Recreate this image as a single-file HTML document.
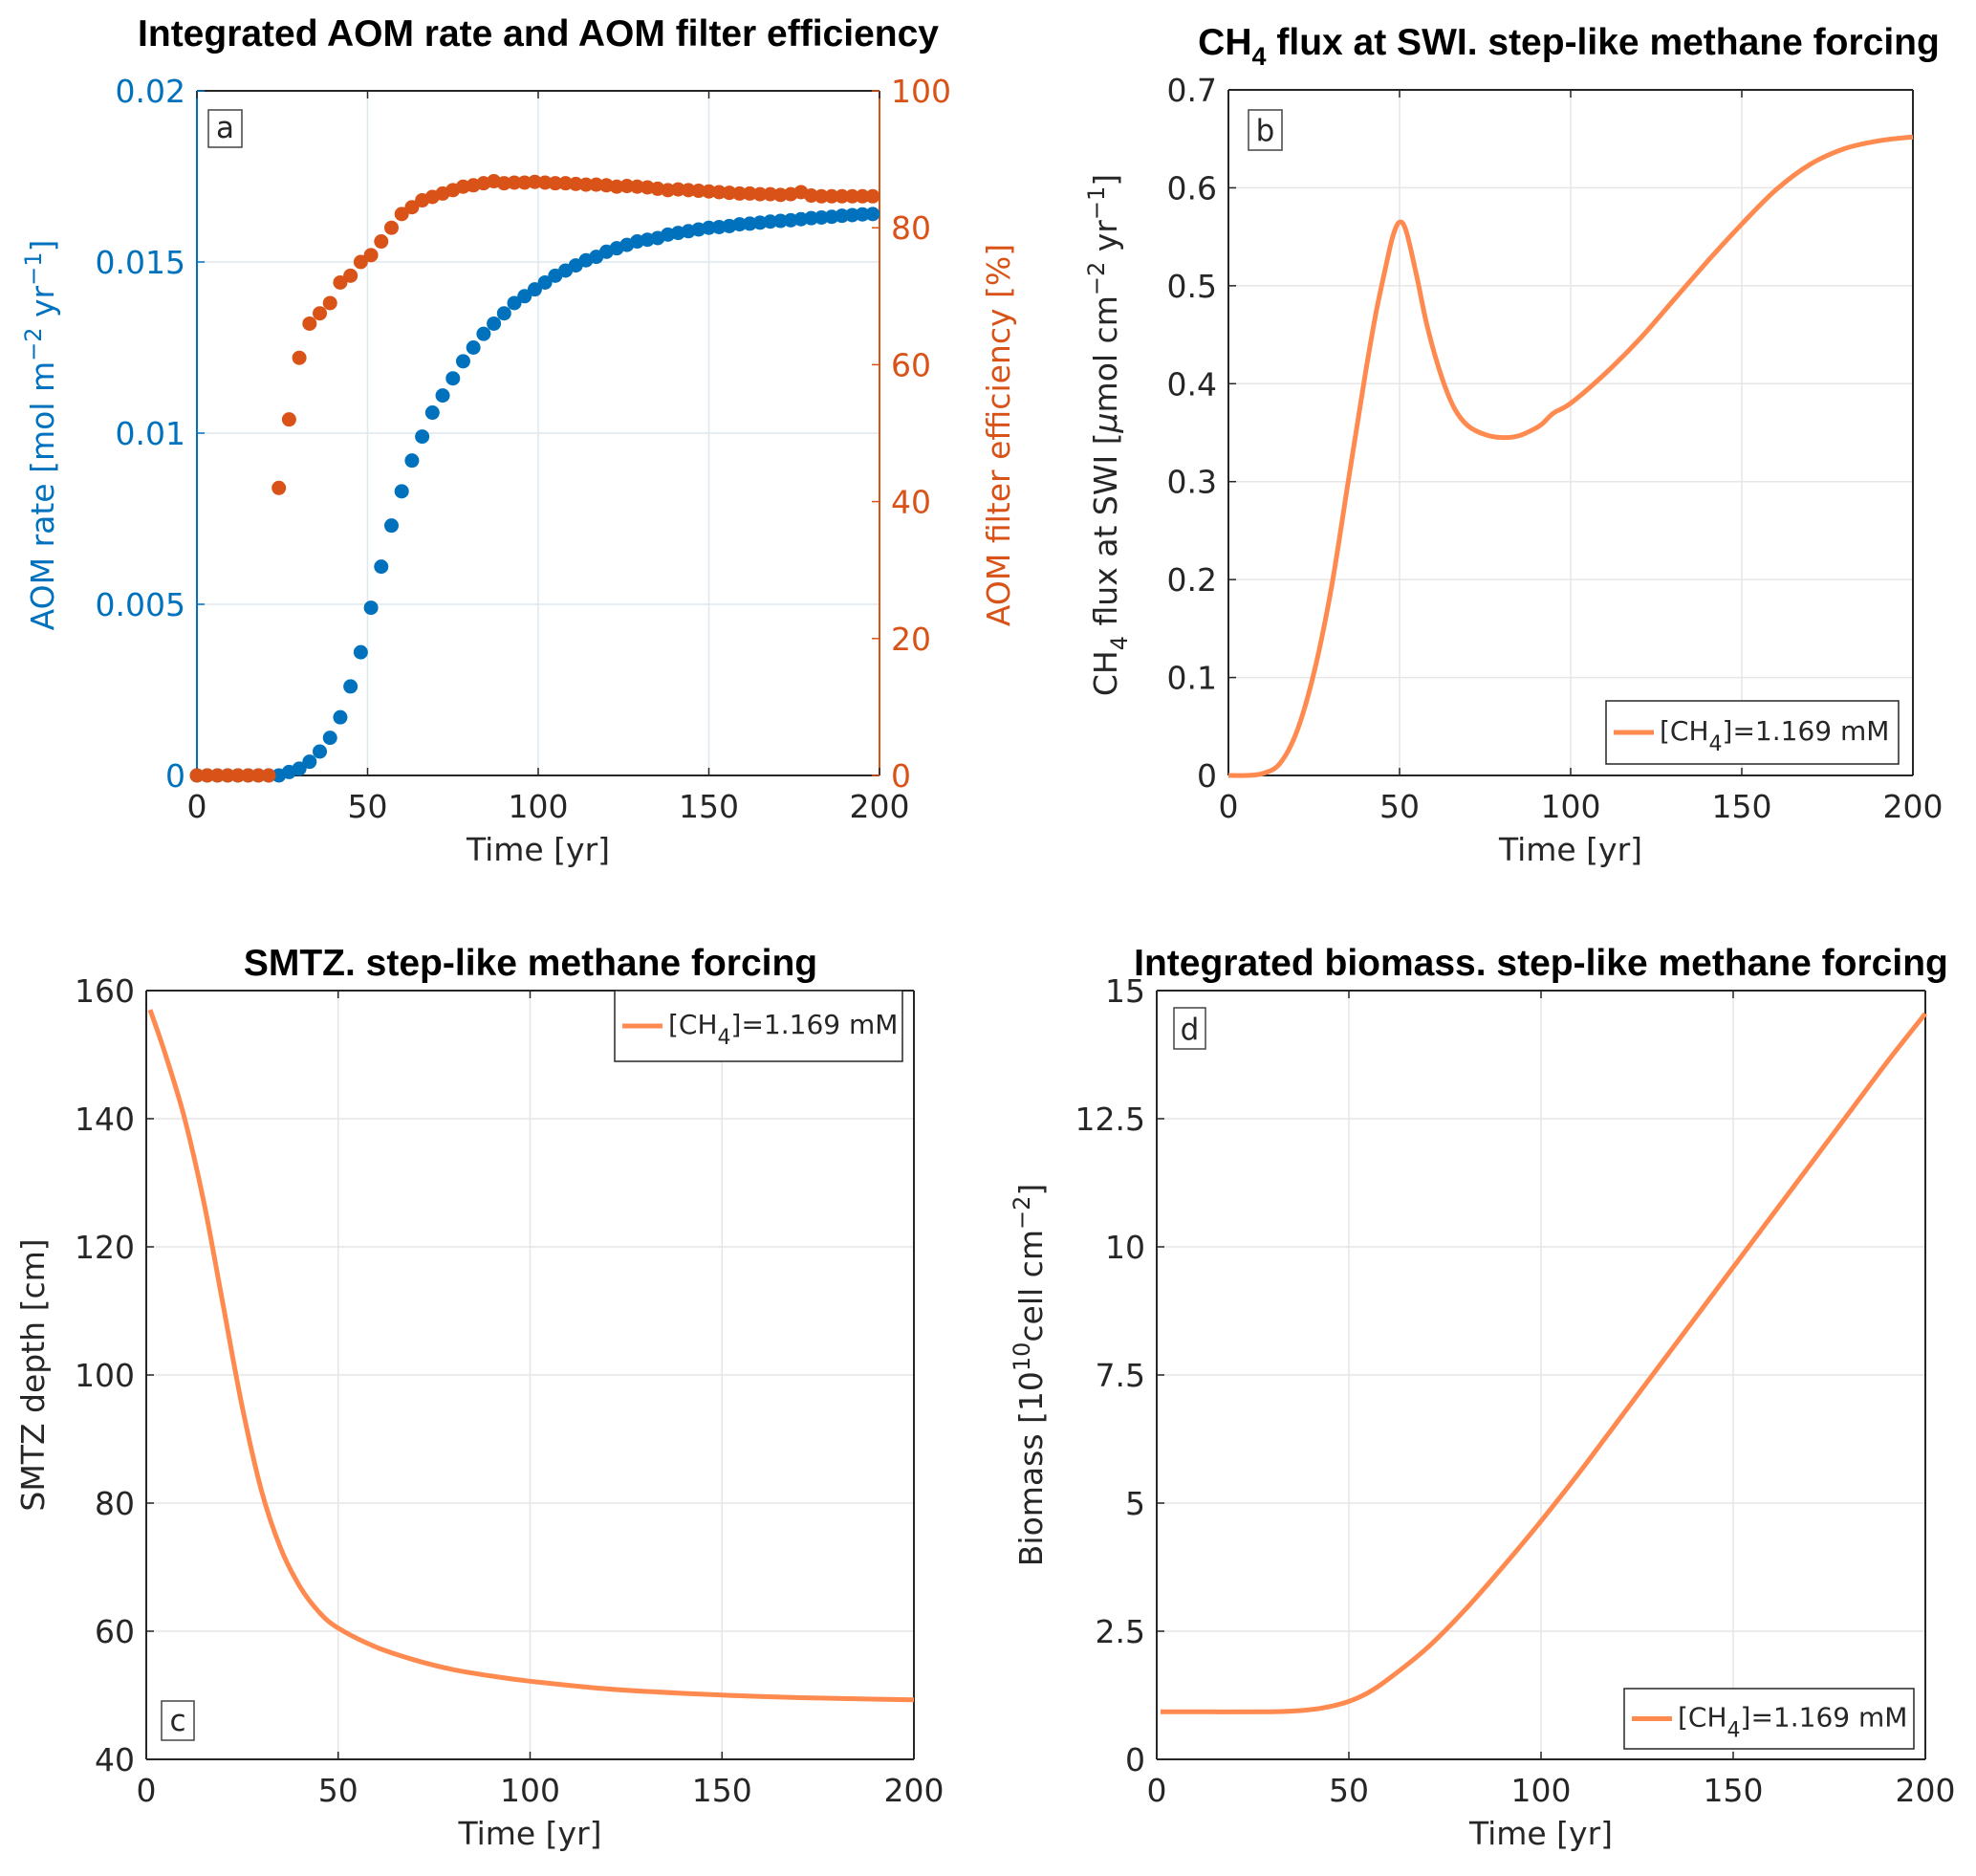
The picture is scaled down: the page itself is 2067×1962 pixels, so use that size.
<!DOCTYPE html>
<html><head><meta charset="utf-8"><style>
html,body{margin:0;padding:0;background:#fff;}
svg{display:block;font-family:"DejaVu Sans","Liberation Sans",sans-serif;}
</style></head><body>
<svg id="fig" width="2067" height="1962" viewBox="0 0 2067 1962" xmlns="http://www.w3.org/2000/svg"></svg>
<script>
// ---------- data ----------
const aTime = [0,3,6,9,12,15,18,21,24,27,30,33,36,39,42,45,48,51,54,57,60,63,66,69,72,75,78,81,84,87,90,93,96,99,102,105,108,111,114,117,120,123,126,129,132,135,138,141,144,147,150,153,156,159,162,165,168,171,174,177,180,183,186,189,192,195,198];
const aomRate = [0,0,0,0,0,0,0,0,0,0.0001,0.0002,0.0004,0.0007,0.0011,0.0017,0.0026,0.0036,0.0049,0.0061,0.0073,0.0083,0.0092,0.0099,0.0106,0.0111,0.0116,0.0121,0.0125,0.0129,0.0132,0.0135,0.0138,0.0140,0.0142,0.0144,0.0146,0.01475,0.0149,0.01505,0.01515,0.0153,0.0154,0.0155,0.0156,0.01565,0.0157,0.0158,0.01585,0.0159,0.01595,0.0160,0.01602,0.01605,0.0161,0.01612,0.01615,0.01618,0.0162,0.01622,0.01625,0.01628,0.0163,0.01632,0.01635,0.01637,0.01639,0.0164];
const aomEff = [0,0,0,0,0,0,0,0,42,52,61,66,67.5,69,72,73,75,76,78,80,82,83,84,84.5,85,85.5,86,86.2,86.5,86.8,86.5,86.6,86.6,86.7,86.6,86.5,86.5,86.4,86.3,86.3,86.2,86.0,86.1,86.0,85.9,85.7,85.5,85.6,85.5,85.4,85.3,85.2,85.1,85.0,85.0,84.9,84.9,84.8,84.9,85.2,84.7,84.6,84.6,84.6,84.6,84.6,84.6];
const bTime = [0,5,10,15,20,25,30,35,40,43,46,48,50,52,55,58,62,66,70,75,80,85,90,92,95,100,110,120,130,140,150,160,170,180,190,200];
const bFlux = [0,0,0.002,0.012,0.045,0.105,0.19,0.3,0.41,0.47,0.52,0.55,0.565,0.555,0.51,0.46,0.41,0.375,0.357,0.348,0.345,0.347,0.355,0.36,0.37,0.38,0.41,0.445,0.485,0.525,0.563,0.598,0.624,0.64,0.648,0.652];
const cTime = [1,5,10,15,20,25,30,35,40,45,50,60,70,80,90,100,120,140,160,180,200];
const cDepth = [157,150,140,127,111,95,82,73,67,63,60.5,57.5,55.5,54,53,52.2,51,50.3,49.8,49.5,49.3];
const dTime = [1,30,40,45,50,55,60,70,80,90,100,110,120,130,140,150,160,170,180,190,200];
const dBiomass = [0.93,0.93,0.97,1.03,1.13,1.3,1.55,2.15,2.9,3.75,4.65,5.6,6.6,7.6,8.6,9.6,10.6,11.6,12.6,13.6,14.55];
const xTicks = [0,50,100,150,200];
const aLeftTicks = [0,0.005,0.01,0.015,0.02];
const aLeftLabels = ["0","0.005","0.01","0.015","0.02"];
const aRightTicks = [0,20,40,60,80,100];
const bTicks = [0,0.1,0.2,0.3,0.4,0.5,0.6,0.7];
const cTicks = [40,60,80,100,120,140,160];
const dTicks = [0,2.5,5,7.5,10,12.5,15];

const NS="http://www.w3.org/2000/svg";
const svg=document.getElementById('fig');
function el(tag,attrs,parent,text){const e=document.createElementNS(NS,tag);for(const k in attrs)e.setAttribute(k,attrs[k]);if(text!==undefined)e.textContent=text;(parent||svg).appendChild(e);return e;}
const AX='#262626', LINE='#FF8A50', BLUE='#0072BD', ORG='#D95319';
const FS=33;

function panel(id,L,R,T,B,xmin,xmax,ymin,ymax){
  const g=el('g',{});
  
  
  return {g,L,R,T,B,sx:v=>L+(v-xmin)/(xmax-xmin)*(R-L),sy:v=>B-(v-ymin)/(ymax-ymin)*(B-T)};
}
function grid(p,xs,ys,col){
  xs.forEach(v=>{const x=p.sx(v);if(x>p.L+1&&x<p.R-1){const l=el('line',{x1:x,x2:x,y1:p.T,y2:p.B,stroke:col,'stroke-width':1.5},p.g);}});
  ys.forEach(v=>{const y=p.sy(v);if(y>p.T+1&&y<p.B-1){const l=el('line',{x1:p.L,x2:p.R,y1:y,y2:y,stroke:col,'stroke-width':1.5},p.g);}});
}
function xAxis(p){
  xTicks.forEach(v=>{const x=p.sx(v);
    el('line',{x1:x,x2:x,y1:p.B,y2:p.B-8,stroke:AX,'stroke-width':1.5},p.g);
    el('line',{x1:x,x2:x,y1:p.T,y2:p.T+8,stroke:AX,'stroke-width':1.5},p.g);
    const t=el('text',{x:x,y:p.B+44,'text-anchor':'middle','font-size':FS,fill:AX},p.g,String(v));
    });
  const t=el('text',{x:(p.L+p.R)/2,y:p.B+89,'text-anchor':'middle','font-size':FS,fill:AX},p.g,'Time [yr]');
  
}
function yAxis(p,ticks,labels,col){
  ticks.forEach((v,i)=>{const y=p.sy(v);
    el('line',{x1:p.L,x2:p.L+8,y1:y,y2:y,stroke:col,'stroke-width':1.5},p.g);
    const t=el('text',{x:p.L-12,y:y+12,'text-anchor':'end','font-size':FS,fill:col},p.g,labels?labels[i]:String(v));
    });
}
function frame(p,leftCol,rightCol){
  el('line',{x1:p.L,x2:p.R,y1:p.B,y2:p.B,stroke:AX,'stroke-width':2},p.g);
  el('line',{x1:p.L,x2:p.R,y1:p.T,y2:p.T,stroke:AX,'stroke-width':2},p.g);
  el('line',{x1:p.L,x2:p.L,y1:p.T,y2:p.B,stroke:leftCol||AX,'stroke-width':2},p.g);
  el('line',{x1:p.R,x2:p.R,y1:p.T,y2:p.B,stroke:rightCol||AX,'stroke-width':2},p.g);
}
function title(p,cx,y,html){
  const t=el('text',{x:cx,y:y,'text-anchor':'middle','font-size':39,'font-weight':'bold',fill:'#000','font-family':'Liberation Sans, sans-serif'},p.g);
  t.innerHTML=html;
  
}
function ylabel(p,x,y,html,col){
  const t=el('text',{x:0,y:0,'text-anchor':'middle','font-size':FS,fill:col||AX,transform:`translate(${x},${y}) rotate(-90)`},p.g);
  t.innerHTML=html;
  
}
function tag(p,x,y,w,h,s){
  const r=el('rect',{x:x,y:y,width:w,height:h,fill:'#fff',stroke:'#444','stroke-width':1.5},p.g);
  
  const t=el('text',{x:x+w/2,y:y+h-10,'text-anchor':'middle','font-size':31,fill:AX},p.g,s);
  
}
function legend(p,x,y,w,h){
  const g=el('g',{},p.g);
  
  el('rect',{x:x,y:y,width:w,height:h,fill:'#fff',stroke:AX,'stroke-width':1.5},g);
  const l=el('line',{x1:x+8,x2:x+50,y1:y+h/2,y2:y+h/2,stroke:LINE,'stroke-width':5},g);
  
  const t=el('text',{x:x+56,y:y+h/2+8,'font-size':28,fill:AX},g);
  t.innerHTML='[CH<tspan dy="11" font-size="22">4</tspan><tspan dy="-11">]=1.169 mM</tspan>';
  
}
function curve(p,xs,ys,name){
  const P=xs.map((v,i)=>[p.sx(v),p.sy(ys[i])]);
  let d='M'+P[0][0].toFixed(1)+','+P[0][1].toFixed(1);
  for(let i=0;i<P.length-1;i++){
    const p0=P[i-1]||P[i],p1=P[i],p2=P[i+1],p3=P[i+2]||P[i+1];
    const c1=[p1[0]+(p2[0]-p0[0])/6,p1[1]+(p2[1]-p0[1])/6];
    const c2=[p2[0]-(p3[0]-p1[0])/6,p2[1]-(p3[1]-p1[1])/6];
    d+=` C${c1[0].toFixed(1)},${c1[1].toFixed(1)} ${c2[0].toFixed(1)},${c2[1].toFixed(1)} ${p2[0].toFixed(1)},${p2[1].toFixed(1)}`;
  }
  const path=el('path',{d:d,fill:'none',stroke:LINE,'stroke-width':5,'stroke-linejoin':'round'},p.g);
  
}

// ---- panel a ----
const pa=panel('a',206,920,95,811,0,200,0,0.02);
const syR=v=>pa.B-(v/100)*(pa.B-pa.T);
grid(pa,xTicks,aLeftTicks,'#dde8ef');
frame(pa,BLUE,ORG);
xAxis(pa);
yAxis(pa,aLeftTicks,aLeftLabels,BLUE);
aRightTicks.forEach(v=>{const y=syR(v);
  el('line',{x1:pa.R,x2:pa.R-8,y1:y,y2:y,stroke:ORG,'stroke-width':1.5},pa.g);
  const t=el('text',{x:pa.R+12,y:y+12,'font-size':FS,fill:ORG},pa.g,String(v));
  });
aTime.forEach((v,i)=>{
  const c=el('circle',{cx:pa.sx(v),cy:pa.sy(aomRate[i]),r:7.5,fill:BLUE},pa.g);
  
});
aTime.forEach((v,i)=>{
  const c=el('circle',{cx:pa.sx(v),cy:syR(aomEff[i]),r:7.5,fill:ORG},pa.g);
  
});
title(pa,563,48,'Integrated AOM rate and AOM filter efficiency');
ylabel(pa,56,455,'AOM rate [mol m<tspan dy="-13" font-size="24">−2</tspan><tspan dy="13"> yr</tspan><tspan dy="-13" font-size="24">−1</tspan><tspan dy="13">]</tspan>',BLUE);
ylabel(pa,1056,455,'AOM filter efficiency [%]',ORG);
tag(pa,218,115,35,39,'a');

// ---- panel b ----
const pb=panel('b',1285,2001,94,811,0,200,0,0.7);
grid(pb,xTicks,bTicks,'#e6e6e6');
frame(pb);
xAxis(pb);
yAxis(pb,bTicks,null,AX);
curve(pb,bTime,bFlux,'ch4-flux-line');
title(pb,1641,57,'CH<tspan dy="11" font-size="27">4</tspan><tspan dy="-11"> flux at SWI. step-like methane forcing</tspan>');
ylabel(pb,1168,455,'CH<tspan dy="11" font-size="24">4</tspan><tspan dy="-11"> flux at SWI [</tspan><tspan font-style="italic">μ</tspan>mol cm<tspan dy="-13" font-size="24">−2</tspan><tspan dy="13"> yr</tspan><tspan dy="-13" font-size="24">−1</tspan><tspan dy="13">]</tspan>');
tag(pb,1306,115,35,42,'b');
legend(pb,1680,733,306,66);

// ---- panel c ----
const pc=panel('c',153,956,1036,1840,0,200,40,160);
grid(pc,xTicks,cTicks,'#e6e6e6');
frame(pc);
xAxis(pc);
yAxis(pc,cTicks,null,AX);
curve(pc,cTime,cDepth,'smtz-depth-line');
title(pc,555,1020,'SMTZ. step-like methane forcing');
ylabel(pc,46,1438,'SMTZ depth [cm]');
tag(pc,169,1779,34,41,'c');
legend(pc,643,1036,301,74);

// ---- panel d ----
const pd=panel('d',1210,2014,1036,1840,0,200,0,15);
grid(pd,xTicks,dTicks,'#e6e6e6');
frame(pd);
xAxis(pd);
yAxis(pd,dTicks,null,AX);
curve(pd,dTime,dBiomass,'biomass-line');
title(pd,1612,1020,'Integrated biomass. step-like methane forcing');
ylabel(pd,1090,1438,'Biomass [10<tspan dy="-13" font-size="24">10</tspan><tspan dy="13">cell cm</tspan><tspan dy="-13" font-size="24">−2</tspan><tspan dy="13">]</tspan>');
tag(pd,1228,1054,33,43,'d');
legend(pd,1699,1766,303,63);
</script>
</body></html>
